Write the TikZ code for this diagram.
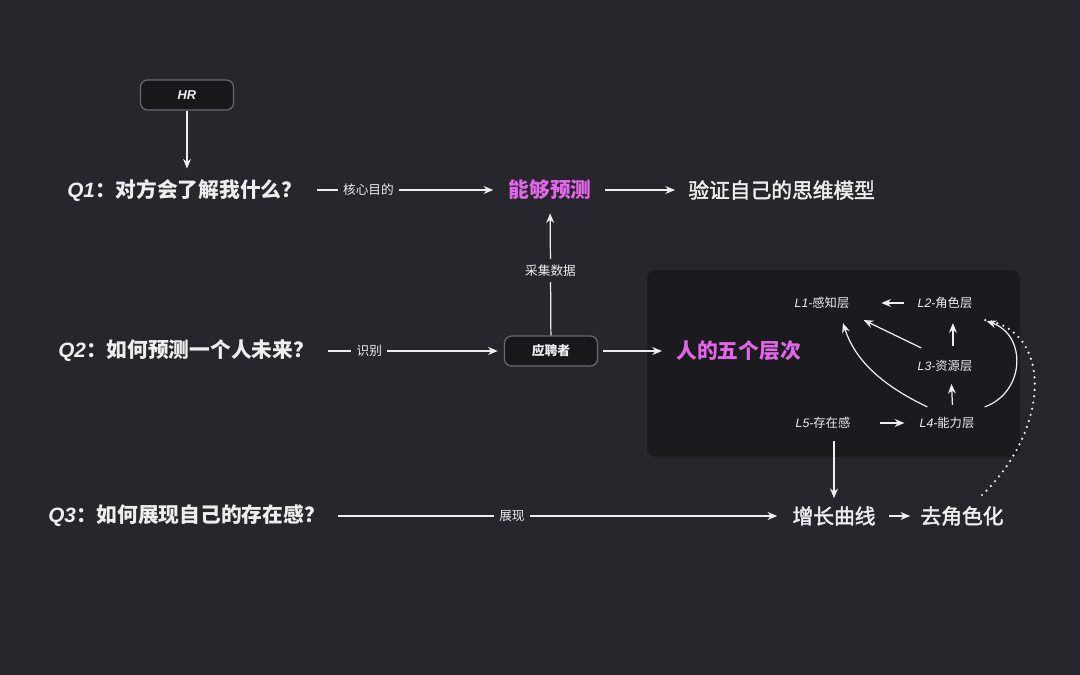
\documentclass[tikz,border=0pt]{standalone}
\usepackage{fontspec}
\setmainfont{Noto Sans CJK SC}
\newfontfamily\latinfont{Liberation Sans}
\newfontfamily\midfont[FakeBold=2]{Noto Sans CJK SC}
\usetikzlibrary{arrows.meta}
\definecolor{bgcol}{RGB}{38,38,44}
\definecolor{panelcol}{RGB}{27,26,31}
\definecolor{boxcol}{RGB}{24,24,27}
\definecolor{boxline}{RGB}{105,105,112}
\definecolor{hotpink}{RGB}{226,102,232}
\definecolor{fg}{RGB}{238,238,240}
\newcommand{\qlab}[2]{{\latinfont\bfseries\itshape Q#1}#2}
\newcommand{\lyr}[2]{{\latinfont\itshape L#1-}#2}

\begin{document}
\begin{tikzpicture}[x=0.02cm,y=-0.02cm,
	arr/.style={draw=fg,line width=0.7pt,-{Stealth[length=5.5pt,width=4.5pt]}},
	big/.style={text=fg,font=\fontsize{11.8}{13}\selectfont\bfseries,inner sep=0pt},
	mid/.style={big,font=\fontsize{11.8}{13}\selectfont\midfont},
	hot/.style={big,text=hotpink},
	tag/.style={text=fg,font=\fontsize{7.2}{9}\selectfont,fill=bgcol,inner sep=3pt},
	lyrbox/.style={text=fg,font=\fontsize{7}{9}\selectfont,inner sep=0pt},
	pill/.style={draw=boxline,fill=boxcol,rounded corners=4pt,line width=0.7pt,
		minimum width=1.86cm,minimum height=0.6cm,text=fg,font=\fontsize{7.3}{9}\selectfont\bfseries}]
		\fill[bgcol] (0,0) rectangle (1080,675);
		\fill[panelcol,rounded corners=5pt] (647,270) rectangle (1020,457);% panel
		
		\node[pill] (hr) at (187,95) {\latinfont\bfseries\itshape HR};
		\node[big,anchor=west] (q1) at (67,190) {\qlab{1}{：对方会了解我什么？}};
		\node[hot] (pred) at (550,190) {能够预测};
		\node[mid,anchor=west] (model) at (688,190) {验证自己的思维模型};
		\node[big,anchor=west] (q2) at (58,351) {\qlab{2}{：如何预测一个人未来？}};
		\node[pill] (cand) at (551,351) {应聘者};
		\node[hot,anchor=west] (five) at (676,351) {人的五个层次};
		\node[big,anchor=west] (q3) at (48,516) {\qlab{3}{：如何展现自己的存在感？}};
		\node[mid] (grow) at (834,516) {增长曲线};
		\node[mid] (derole) at (962,516) {去角色化};
		
		\node[lyrbox] (l1) at (822,303) {\lyr{1}{感知层}};
		\node[lyrbox] (l2) at (945,303) {\lyr{2}{角色层}};
		\node[lyrbox] (l3) at (945,366) {\lyr{3}{资源层}};
		\node[lyrbox] (l4) at (947,423) {\lyr{4}{能力层}};
		\node[lyrbox] (l5) at (823,423) {\lyr{5}{存在感}};
		
		\draw[arr,shorten >=5.7pt] (hr) -- (hr |- q1.north);
		\draw[arr,shorten <=8pt,shorten >=8.5pt] (q1) -- (pred) node[tag,pos=0.32]{核心目的};
		\draw[arr,shorten <=7.4pt,shorten >=7.4pt] (pred) -- (model);
		\draw[arr,shorten >=7.4pt] (cand) -- (pred) node[tag,pos=0.48]{采集数据};
		\draw[arr,shorten <=8pt,shorten >=3.5pt] (q2) -- (cand) node[tag,pos=0.29]{识别};
		\draw[arr,shorten <=2.8pt,shorten >=8pt] (cand) -- (five);
		\draw[arr,shorten <=7.4pt,shorten >=8.5pt] (q3) -- (grow) node[tag,pos=0.40]{展现};
		\draw[arr,shorten <=7.4pt,shorten >=5.7pt] (grow) -- (derole);
		\draw[arr,shorten <=6.8pt,shorten >=4.5pt] (grow.north |- l5.south) -- (grow.north);
		
		% layers
		\draw[arr,shorten <=7.4pt,shorten >=18pt] (l2) -- (l1);
		\draw[arr,shorten <=8pt,shorten >=8pt] ([xshift=4.5pt]l3.north) -- ([xshift=4.5pt]l2.south);
		\draw[arr,shorten <=6.8pt,shorten >=6.8pt] ([xshift=3.4pt]l4.north) -- ([xshift=3.4pt]l3.south);
		\draw[arr,shorten <=16.4pt,shorten >=8.5pt] (l5) -- (l4);
		\draw[arr] ([shift={(4,-12)}]l3.north west) -- ([shift={(14,11)}]l1.south east);
		\draw[arr] ([shift={(8,-10)}]l4.north west) .. controls +(-46,-22) and +(12,37) .. ([shift={(21,14)}]l1.south);
		\draw[arr] ([shift={(10,-10)}]l4.north east) .. controls +(41,-15) and +(40,14) .. ([shift={(14,12)}]l2.south east);
		\draw[fg,line width=1.4pt,dash pattern=on 0pt off 3.6pt,line cap=round] ([shift={(20,-11)}]derole.north) .. controls +(68,-65) and +(69,10) .. ([shift={(12,11)}]l2.south east);
\end{tikzpicture}
\end{document}
